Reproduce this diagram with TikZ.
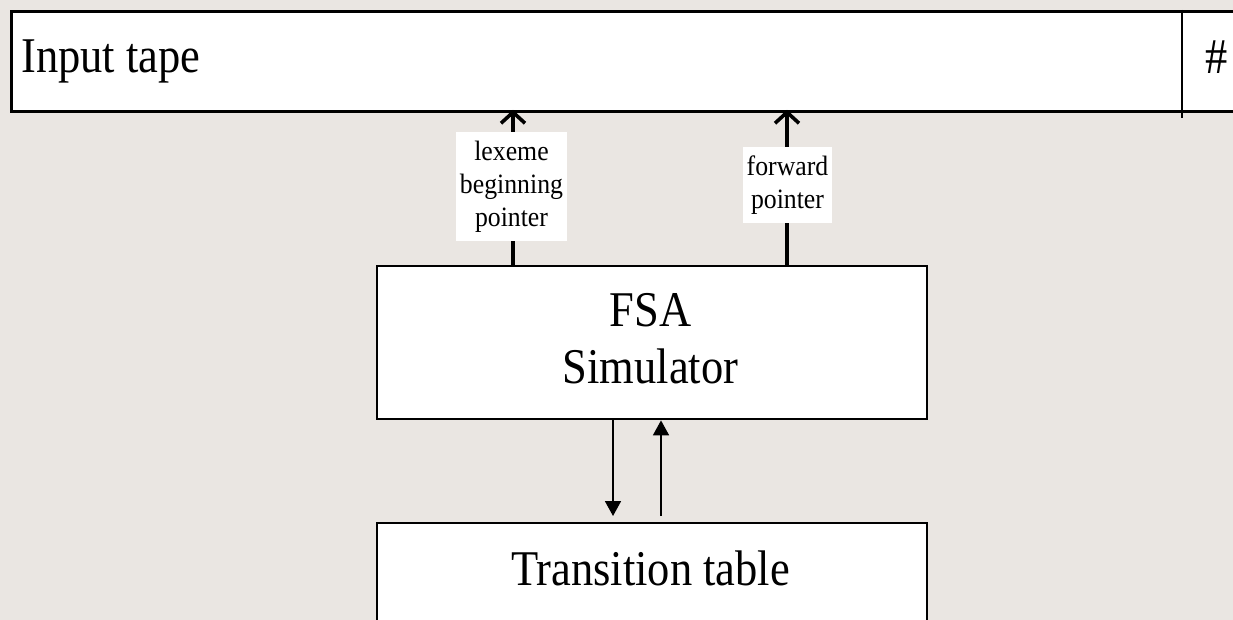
\documentclass[tikz,border=0pt]{standalone}
\usepackage{fontspec}
\setmainfont{Liberation Serif}
\newfontfamily\bigserif[FakeStretch=0.89]{Liberation Serif}
\newfontfamily\smallserif[FakeStretch=0.92]{Liberation Serif}
\usetikzlibrary{arrows.meta}
\definecolor{paper}{RGB}{234,230,226}

\begin{document}
\begin{tikzpicture}[x=1pt,y=-1pt,
  block/.style={draw=black, line width=2.4pt, fill=white, inner sep=0pt, anchor=north west},
  bigtext/.style={font=\bigserif\fontsize{50}{57}\selectfont, inner sep=0pt, anchor=base},
  tag/.style={fill=white, inner xsep=4pt, inner ysep=9pt, align=center,
              font=\smallserif\fontsize{28}{33}\selectfont},
  pointer/.style={line width=3.6pt, shorten >=-3pt,
                  -{Straight Barb[length=11pt, width=24pt, line width=3.6pt]}},
  link/.style={line width=1.8pt, -{Triangle[length=15pt, width=16pt]}}]

% page background and frame
\fill[paper] (0,0) rectangle (1233,620);
\clip (0,0) rectangle (1233,620);

% input tape with end marker cell
\node[block, line width=2.8pt, minimum width=1260pt, minimum height=100pt] (tape) at (10,10) {};
\node[bigtext, anchor=base west] (tapelabel) at (21,73) {Input tape};
\coordinate (celltop) at (1182,10);
\coordinate (cellfoot) at (1182,118);
\draw[line width=2.4pt] (celltop) -- (cellfoot);
\node[bigtext] (endmark) at (1217,74) {\#};

% simulator and transition table
\node[block, minimum width=550pt, minimum height=153pt] (fsa) at (376,265) {};
\node[bigtext] (fsaA) at (650.5,326) {FSA};
\node[bigtext] (fsaB) at (650.5,383) {Simulator};

\node[block, minimum width=550pt, minimum height=130pt] (table) at (376,522) {};
\node[bigtext] (tablelabel) at (650.5,585) {Transition table};

% tape pointers
\coordinate (lexcol) at (513,0);
\coordinate (fwdcol) at (787,0);
\draw[pointer] (fsa.north -| lexcol) -- (tape.south -| lexcol);
\draw[pointer] (fsa.north -| fwdcol) -- (tape.south -| fwdcol);
\node[tag] (lexlabel) at (511.5,186.5) {lexeme\\beginning\\pointer};
\node[tag] (fwdlabel) at (787.5,185) {forward\\pointer};

% lookups between simulator and table
\coordinate (askcol) at (613,0);
\coordinate (replycol) at (661,0);
\draw[link, shorten >=6pt] (fsa.south -| askcol) -- (table.north -| askcol);
\draw[link, shorten <=6pt] (table.north -| replycol) -- (fsa.south -| replycol);
\end{tikzpicture}
\end{document}
